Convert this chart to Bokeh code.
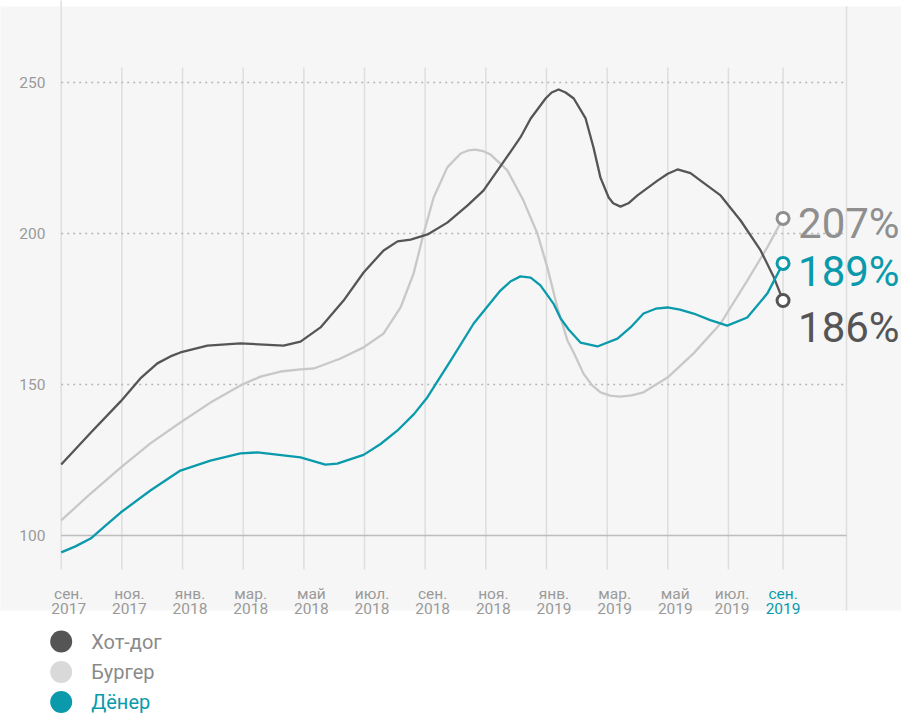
from bokeh.plotting import figure
from bokeh.models import Range1d, ColumnDataSource
from bokeh.core.properties import value
from bokeh.embed import file_html
from bokeh.resources import INLINE

# ---------------- data (x in months since Sep 2017) ----------------
hotdog_m = [0, 0.98, 1.96, 2.61, 3.17, 3.6, 3.93, 4.82, 5.91, 7.33, 7.89, 8.55, 9.31, 9.97,
            10.63, 11.09, 11.52, 12.08, 12.73, 13.4, 13.92, 14.48, 15.14, 15.48, 15.97, 16.17,
            16.4, 16.63, 16.9, 17.29, 17.55, 17.78, 18.05, 18.2, 18.44, 18.7, 19.0, 19.66,
            20.0, 20.32, 20.75, 21.08, 21.74, 22.4, 23.06, 23.5, 23.8]
hotdog_v = [123.5, 134.1, 144.4, 152.0, 157.0, 159.3, 160.6, 162.9, 163.6, 162.9, 164.2, 168.9,
            177.8, 187.1, 194.4, 197.4, 198.0, 199.7, 203.6, 209.3, 214.2, 222.2, 231.8, 238.1,
            244.7, 246.7, 247.7, 246.7, 244.7, 238.1, 228.5, 218.5, 211.9, 210.0, 208.9, 210.0,
            212.6, 217.5, 219.8, 221.2, 220.0, 217.5, 212.6, 204.3, 194.4, 185.4, 177.8]

burger_m = [0, 0.97, 1.96, 2.94, 3.93, 4.92, 5.91, 6.57, 7.23, 7.89, 8.33, 9.21, 9.97, 10.63,
            11.19, 11.62, 11.95, 12.28, 12.73, 13.17, 13.42, 13.66, 13.9, 14.15, 14.71, 15.24,
            15.7, 16.03, 16.36, 16.69, 16.9, 17.22, 17.5, 17.78, 18.1, 18.44, 18.8, 19.2,
            19.99, 20.85, 21.74, 22.62, 23.28, 23.8]
burger_v = [105.0, 113.9, 122.5, 130.5, 137.4, 144.0, 149.7, 152.6, 154.3, 155.0, 155.3, 158.6,
            162.3, 166.9, 175.5, 186.8, 200.0, 211.9, 221.9, 226.5, 227.5, 227.8, 227.3, 226.2,
            220.9, 210.9, 200.0, 188.7, 175.5, 164.6, 160.5, 153.6, 149.8, 147.4, 146.3, 146.0,
            146.4, 147.4, 152.3, 160.3, 170.2, 184.4, 195.4, 205.0]

doner_m = [0, 0.47, 0.97, 1.46, 1.96, 2.94, 3.93, 4.92, 5.91, 6.47, 7.89, 8.71, 9.1, 9.97,
           10.53, 11.08, 11.63, 12.07, 12.84, 13.6, 14.48, 14.81, 15.14, 15.48, 15.8, 16.23,
           16.46, 16.73, 17.12, 17.68, 18.34, 18.77, 19.2, 19.6, 19.99, 20.4, 20.85, 21.4,
           21.96, 22.62, 23.28, 23.8]
doner_v = [94.4, 96.4, 99.0, 103.3, 107.6, 114.9, 121.5, 124.8, 127.2, 127.5, 125.9, 123.5,
           123.8, 126.7, 130.3, 134.7, 140.2, 145.7, 157.9, 170.2, 181.1, 184.1, 185.8, 185.4,
           182.8, 176.8, 172.0, 168.2, 163.9, 162.6, 165.2, 168.9, 173.5, 175.1, 175.5, 174.8,
           173.5, 171.3, 169.5, 172.2, 180.1, 190.1]

series_names = ["Хот-дог", "Бургер", "Дёнер"]
end_labels = ["186%", "207%", "189%"]

tick_m = [0, 2, 4, 6, 8, 10, 12, 14, 16, 18, 20, 22, 23.8]
tick_month = ["сен.", "ноя.", "янв.", "мар.", "май", "июл.", "сен.", "ноя.", "янв.", "мар.",
              "май", "июл.", "сен."]
tick_year = ["2017", "2017", "2018", "2018", "2018", "2018", "2018", "2018", "2019", "2019",
             "2019", "2019", "2019"]
y_ticks = [100, 150, 200, 250]

# ---------------- styling ----------------
C_DARK = "#555555"
C_LIGHT = "#c8c8c8"
C_TEAL = "#0a9aab"
C_LABEL = "#9a9a9a"
FONT = value("Roboto")

W, H = 901, 713
X0, PXM = 60.7, 30.33      # canvas x of first month, px per month
Y100, PXV = 535.0, 3.02    # canvas y of value 100, px per unit


def mx(px):
    return (px - X0) / PXM


def vy(py):
    return 100 + (Y100 - py) / PXV


p = figure(width=W, height=H, output_backend="svg", toolbar_location=None,
           x_range=Range1d(mx(0), mx(W)), y_range=Range1d(vy(H), vy(0)),
           x_axis_location=None, y_axis_location=None, min_border=0,
           background_fill_color="white", border_fill_color="white",
           outline_line_color=None)
p.grid.visible = False

# gray panel
p.quad(left=[mx(-2)], right=[mx(W + 2)], bottom=[vy(610)], top=[vy(6)],
       fill_color="#f6f6f6", line_color=None)

# vertical grid lines
vg_top = [vy(-2)] + [vy(67)] * (len(tick_m) - 1)
p.segment(x0=tick_m, x1=tick_m, y0=[vy(569)] * len(tick_m), y1=vg_top,
          line_color="#dedede", line_width=1.5)
p.segment(x0=[mx(846)], x1=[mx(846)], y0=[vy(610)], y1=[vy(6)],
          line_color="#dedede", line_width=1.5)

# horizontal grid
for t in y_ticks[1:]:
    p.line(x=[0, mx(846)], y=[t, t], line_color="#b8b8b8", line_width=1.6,
           line_dash="2 4")
p.line(x=[0, mx(846)], y=[y_ticks[0]] * 2, line_color="#bdbdbd", line_width=1.5)

# y tick labels
p.text(x=[mx(45)] * len(y_ticks), y=y_ticks, text=[str(t) for t in y_ticks],
       text_align="right", text_baseline="middle", text_font=FONT,
       text_font_size="15.5px", text_color=C_LABEL)

# x tick labels
offs = [7.5] * (len(tick_m) - 2) + [3.5, 0]
cols = [C_LABEL] * (len(tick_m) - 1) + [C_TEAL]
xsrc = ColumnDataSource(dict(x=tick_m, m=tick_month, yr=tick_year, off=offs, c=cols,
                             y1=[vy(593)] * len(tick_m), y2=[vy(608)] * len(tick_m)))
p.text(x="x", y="y1", text="m", x_offset="off", source=xsrc, text_align="center",
       text_baseline="alphabetic", text_font=FONT, text_font_size="15.5px", text_color="c")
p.text(x="x", y="y2", text="yr", x_offset="off", source=xsrc, text_align="center",
       text_baseline="alphabetic", text_font=FONT, text_font_size="15.5px", text_color="c")

# series
p.line(burger_m, burger_v, line_color=C_LIGHT, line_width=2.3, line_join="round")
p.line(hotdog_m, hotdog_v, line_color=C_DARK, line_width=2.3, line_join="round")
p.line(doner_m, doner_v, line_color=C_TEAL, line_width=2.3, line_join="round")

# end markers + labels
ends = ColumnDataSource(dict(
    x=[hotdog_m[-1], burger_m[-1], doner_m[-1]],
    y=[hotdog_v[-1], burger_v[-1], doner_v[-1]],
    lc=[C_DARK, "#8f8f8f", C_TEAL],
    t=end_labels,
    yo=[27, 5.5, 8.5],
))
p.scatter(x="x", y="y", source=ends, size=12, fill_color="white", line_color="lc",
          line_width=3)
p.text(x="x", y="y", text="t", source=ends, x_offset=15, y_offset="yo",
       text_align="left", text_baseline="alphabetic", text_font=FONT,
       text_font_size="42px", text_color="lc")

# legend
leg_y = [vy(641), vy(671.5), vy(701.5)]
p.scatter(x=[0] * 3, y=leg_y, size=22, fill_color=[C_DARK, "#d9d9d9", C_TEAL],
          line_color=None)
p.text(x=[0] * 3, y=leg_y, text=series_names, x_offset=30, text_align="left",
       text_baseline="middle", text_font=FONT, text_font_size="20px",
       text_color=["#8a8a8a", "#8a8a8a", C_TEAL])

open("out.html", "w").write(file_html(p, INLINE))
